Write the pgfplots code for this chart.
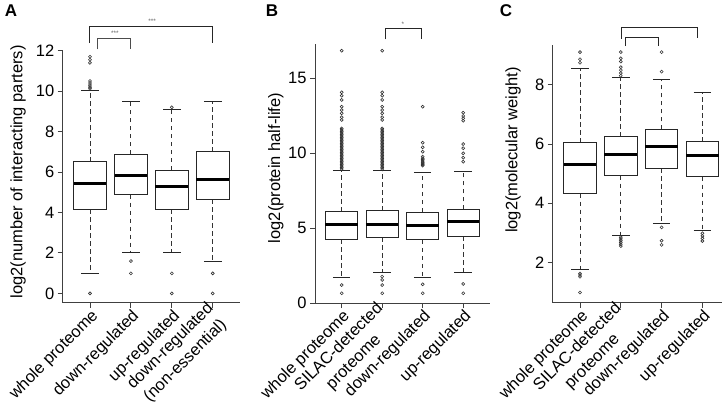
\documentclass[border=0pt]{standalone}
\usepackage{fontspec}
\setmainfont{Liberation Sans}
\usepackage{pgfplots}
\pgfplotsset{compat=1.18}
\usepgfplotslibrary{statistics}

\tikzset{
  whiskerline/.style={black!80, line width=0.9bp, dash pattern=on 4.5bp off 3.5bp},
  capline/.style={black!85, line width=1bp},
  brk/.style={black!85, line width=1bp},
  stars/.style={font=\fontsize{6.5bp}{7bp}\selectfont, text=black!60, inner sep=0pt},
}

\pgfplotsset{
  /pgfplots/boxplot/draw direction=y,
  /pgfplots/boxplot/box extend=0.8,
  /pgfplots/boxplot/whisker extend=0.43,
  /pgfplots/boxplot/every box/.style={draw=black!85, fill=white, line width=0.9bp},
  /pgfplots/boxplot/every median/.style={black, line width=3bp},
  /pgfplots/boxplot/draw/lower whisker/.code={%
    \draw[whiskerline] (boxplot cs:\pgfplotsboxplotvalue{lower quartile}) -- (boxplot cs:\pgfplotsboxplotvalue{lower whisker});
    \draw[capline] (boxplot whisker cs:\pgfplotsboxplotvalue{lower whisker},0) -- (boxplot whisker cs:\pgfplotsboxplotvalue{lower whisker},1);
  },
  /pgfplots/boxplot/draw/upper whisker/.code={%
    \draw[whiskerline] (boxplot cs:\pgfplotsboxplotvalue{upper quartile}) -- (boxplot cs:\pgfplotsboxplotvalue{upper whisker});
    \draw[capline] (boxplot whisker cs:\pgfplotsboxplotvalue{upper whisker},0) -- (boxplot whisker cs:\pgfplotsboxplotvalue{upper whisker},1);
  },
  rbox/.style={
    scale only axis, clip=false,
    axis lines=left, axis line style={-, black!75, line width=0.9bp},
    tick align=outside, major tick length=5bp,
    tick style={black!75, line width=0.9bp},
    xtick={1,2,3,4},
    tick label style={font=\fontsize{16.5bp}{21bp}\selectfont},
    /pgf/number format/assume math mode=true,
    xticklabel style={rotate=45, anchor=east, align=center, inner sep=1bp, yshift=-8bp, xshift=1bp},
    label style={font=\fontsize{16.5bp}{20bp}\selectfont},
  },
  outl/.style={black!80, mark=o, mark size=1.5bp, mark options={line width=0.6bp, black!80}},
}

\begin{document}
\begin{tikzpicture}
\useasboundingbox (0,0) rectangle (722bp,415bp);

\node[font=\fontsize{17bp}{17bp}\selectfont\bfseries] at (11bp,404bp) {A};
\node[font=\fontsize{17bp}{17bp}\selectfont\bfseries] at (272bp,404bp) {B};
\node[font=\fontsize{17bp}{17bp}\selectfont\bfseries] at (506bp,404bp) {C};

% ---------------- Panel A ----------------
\begin{axis}[rbox,
  at={(62.7bp,112.3bp)}, anchor=south west,
  width=177.3bp, height=252bp,
  xmin=0.333, xmax=4.667, ymin=-0.46, ymax=12,
  ytick={0,2,4,6,8,10,12},
  xticklabels={whole proteome, down-regulated, up-regulated, {down-regulated\\(non-essential)}},
  ylabel={log2(number of interacting parters)},
  ylabel style={at={(axis description cs:-0.252,0.519)}, anchor=center},
]
\addplot[outl, boxplot prepared={median=5.41, upper quartile=6.51, lower quartile=4.17, upper whisker=10.02, lower whisker=0.99, draw position=1}]
  table[row sep=\\, y index=0] {11.7\\ 11.55\\ 11.4\\ 10.5\\ 10.4\\ 10.3\\ 10.2\\ 10.12\\ 0\\};
\addplot[outl, boxplot prepared={median=5.84, upper quartile=6.89, lower quartile=4.88, upper whisker=9.51, lower whisker=2.01, draw position=2}]
  table[row sep=\\, y index=0] {1.6\\ 0.99\\};
\addplot[outl, boxplot prepared={median=5.27, upper quartile=6.10, lower quartile=4.17, upper whisker=9.07, lower whisker=2.0, draw position=3}]
  table[row sep=\\, y index=0] {9.2\\ 0.99\\ 0\\};
\addplot[outl, boxplot prepared={median=5.65, upper quartile=7.0, lower quartile=4.66, upper whisker=9.51, lower whisker=1.6, draw position=4}]
  table[row sep=\\, y index=0] {0.99\\ 0\\};
\draw[brk] (axis cs:1,12.38) -- (axis cs:1,13.2) -- (axis cs:4,13.2) -- (axis cs:4,12.38);
\draw[brk, black!70] (axis cs:1.18,12.06) -- (axis cs:1.18,12.61) -- (axis cs:2,12.61) -- (axis cs:2,12.06);
\node[stars] at (axis cs:2.52,13.45) {***};
\node[stars] at (axis cs:1.61,12.84) {***};
\end{axis}

% ---------------- Panel B ----------------
\begin{axis}[rbox,
  at={(315bp,112bp)}, anchor=south west,
  width=175bp, height=259.2bp,
  xmin=0.341, xmax=4.662, ymin=0, ymax=17.3,
  ytick={0,5,10,15},
  xticklabels={whole proteome, {SILAC-detected\\proteome}, down-regulated, up-regulated},
  ylabel={log2(protein half-life)},
  ylabel style={at={(axis description cs:-0.223,0.521)}, anchor=center},
]
\addplot[outl, boxplot prepared={median=5.21, upper quartile=6.09, lower quartile=4.27, upper whisker=8.83, lower whisker=1.72, draw position=1}]
  table[row sep=\\, y index=0] {8.95\\ 9.05\\ 9.15\\ 9.25\\ 9.35\\ 9.45\\ 9.55\\ 9.65\\ 9.75\\ 9.85\\ 9.95\\ 10.05\\ 10.15\\ 10.25\\ 10.35\\ 10.45\\ 10.55\\ 10.65\\ 10.75\\ 10.85\\ 10.95\\ 11.05\\ 11.15\\ 11.25\\ 11.35\\ 11.45\\ 11.55\\ 11.65\\ 12.22\\ 12.40\\ 12.66\\ 12.88\\ 13.10\\ 13.55\\ 13.84\\ 14.06\\ 16.84\\ 1.20\\ 0.65\\};
\addplot[outl, boxplot prepared={median=5.27, upper quartile=6.16, lower quartile=4.39, upper whisker=8.83, lower whisker=2.02, draw position=2}]
  table[row sep=\\, y index=0] {8.95\\ 9.05\\ 9.15\\ 9.25\\ 9.35\\ 9.45\\ 9.55\\ 9.65\\ 9.75\\ 9.85\\ 9.95\\ 10.05\\ 10.15\\ 10.25\\ 10.35\\ 10.45\\ 10.55\\ 10.65\\ 10.75\\ 10.85\\ 10.95\\ 11.05\\ 11.15\\ 11.25\\ 11.35\\ 11.45\\ 11.55\\ 11.65\\ 12.22\\ 12.40\\ 12.66\\ 12.88\\ 13.10\\ 13.55\\ 13.84\\ 14.06\\ 16.84\\ 1.76\\ 1.54\\ 1.20\\ 0.65\\};
\addplot[outl, boxplot prepared={median=5.14, upper quartile=6.07, lower quartile=4.21, upper whisker=8.72, lower whisker=1.72, draw position=3}]
  table[row sep=\\, y index=0] {9.17\\ 9.25\\ 9.33\\ 9.4\\ 9.48\\ 9.57\\ 9.66\\ 9.77\\ 10.10\\ 10.39\\ 10.70\\ 13.10\\ 1.25\\ 0.65\\};
\addplot[outl, boxplot prepared={median=5.45, upper quartile=6.25, lower quartile=4.47, upper whisker=8.77, lower whisker=2.02, draw position=4}]
  table[row sep=\\, y index=0] {9.43\\ 9.70\\ 9.99\\ 10.33\\ 10.61\\ 12.17\\ 12.33\\ 12.48\\ 12.70\\ 1.27\\ 0.65\\};
\draw[brk] (axis cs:2.086,17.6) -- (axis cs:2.086,18.34) -- (axis cs:2.975,18.34) -- (axis cs:2.975,17.6);
\node[stars] at (axis cs:2.51,18.6) {*};
\end{axis}

% ---------------- Panel C ----------------
\begin{axis}[rbox,
  at={(552.7bp,112.3bp)}, anchor=south west,
  width=169.3bp, height=257.7bp,
  xmin=0.331, xmax=4.48, ymin=0.633, ymax=9.35,
  ytick={2,4,6,8},
  xticklabels={whole proteome, {SILAC-detected\\proteome}, down-regulated, up-regulated},
  ylabel={log2(molecular weight)},
  ylabel style={at={(axis description cs:-0.234,0.593)}, anchor=center},
]
\addplot[outl, boxplot prepared={median=5.32, upper quartile=6.05, lower quartile=4.32, upper whisker=8.54, lower whisker=1.74, draw position=1}]
  table[row sep=\\, y index=0] {9.11\\ 8.87\\ 8.75\\ 1.62\\ 1.57\\ 1.51\\ 0.98\\};
\addplot[outl, boxplot prepared={median=5.63, upper quartile=6.25, lower quartile=4.93, upper whisker=8.25, lower whisker=2.91, draw position=2}]
  table[row sep=\\, y index=0] {9.11\\ 8.9\\ 8.79\\ 8.6\\ 8.5\\ 8.4\\ 8.31\\ 2.85\\ 2.79\\ 2.73\\ 2.67\\ 2.61\\ 2.55\\};
\addplot[outl, boxplot prepared={median=5.91, upper quartile=6.5, lower quartile=5.18, upper whisker=8.17, lower whisker=3.3, draw position=3}]
  table[row sep=\\, y index=0] {9.11\\ 8.45\\ 3.18\\ 2.73\\ 2.59\\};
\addplot[outl, boxplot prepared={median=5.6, upper quartile=6.08, lower quartile=4.9, upper whisker=7.75, lower whisker=3.09, draw position=4}]
  table[row sep=\\, y index=0] {2.98\\ 2.89\\ 2.81\\ 2.72\\};
\draw[brk] (axis cs:2.022,9.56) -- (axis cs:2.022,9.94) -- (axis cs:3.89,9.94) -- (axis cs:3.89,9.59);
\draw[brk] (axis cs:2.115,9.31) -- (axis cs:2.115,9.61) -- (axis cs:2.919,9.61) -- (axis cs:2.919,9.31);
\end{axis}
\end{tikzpicture}
\end{document}
